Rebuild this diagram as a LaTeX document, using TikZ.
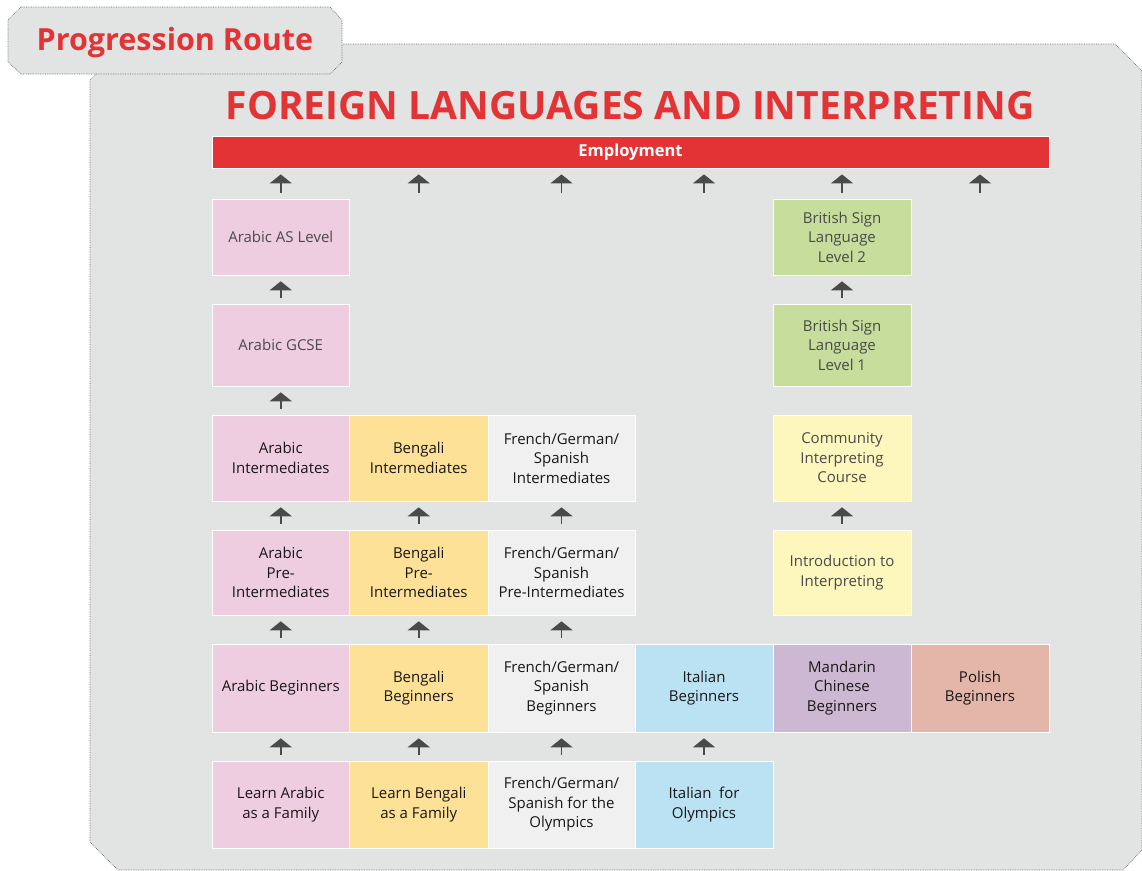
\documentclass[tikz,border=0pt]{standalone}
\usepackage{fontspec}
\setmainfont{Open Sans}
\usetikzlibrary{arrows.meta}
\definecolor{pred}{HTML}{E43335}
\definecolor{panelbg}{HTML}{E2E3E3}
\definecolor{cpink}{HTML}{EFCDE1}
\definecolor{cyellow}{HTML}{FDE197}
\definecolor{cfgray}{HTML}{F0F0F0}
\definecolor{cblue}{HTML}{BAE2F3}
\definecolor{cpurple}{HTML}{CDB8D3}
\definecolor{csalmon}{HTML}{E4B6A9}
\definecolor{cgreen}{HTML}{C6DD9C}
\definecolor{clyellow}{HTML}{FEF7BD}
\definecolor{txtdark}{HTML}{1A1718}
\definecolor{txtgray}{HTML}{4A4A4A}
\definecolor{arrowc}{HTML}{4A4A4A}
\definecolor{borderc}{HTML}{6A6A6A}
\begin{document}
\begin{tikzpicture}[x=1pt,y=-1pt,
  box/.style={draw=white, line width=0.6pt, inner sep=0pt, align=center,
    font=\fontsize{15}{19.5}\selectfont, text=txtdark},
  graytext/.style={text=txtgray},
  w1/.style={minimum width=137.5pt}, w2/.style={minimum width=138.5pt},
  w3/.style={minimum width=147pt}, w4/.style={minimum width=138pt},
  arr/.style={draw=arrowc, line width=1.5pt, -{Triangle[width=22pt,length=9pt]}},
  outline/.style={draw=borderc, line width=0.7pt, densely dotted}
]
\useasboundingbox (0,0) rectangle (1142,870);
% panel
\fill[panelbg] (96,44) -- (1115,44) -- (1142,71) -- (1142,850) -- (1123,870) -- (118,870) -- (90,842) -- (90,80) -- (96,74) -- cycle;
\draw[outline] (343,44) -- (1115,44) -- (1142,71) -- (1142,850) -- (1123,870) -- (118,870) -- (90,842) -- (90,80) -- (96,74);
% tab
\draw[outline, fill=panelbg] (21,7) -- (330,7) -- (342,20) -- (342,62) -- (330,74) -- (21,74) -- (8,62) -- (8,20) -- cycle;
\node[text=pred, font=\bfseries\fontsize{30.5}{33}\selectfont] (tabtxt) at (175,43) {Progression Route};
% title
\node[text=pred, font=\bfseries\fontsize{39}{44}\selectfont, anchor=base] (title) at (630,119) {FOREIGN LANGUAGES AND INTERPRETING};
% employment
\node[fill=pred, draw=white, line width=0.8pt, minimum width=837pt, minimum height=32pt, inner sep=0pt,
  text=white, font=\bfseries\fontsize{16.5}{18}\selectfont] (emp) at (630.5,152) {\raisebox{-1.5pt}{Employment}};
% column 1 Arabic
\node[box, w1, fill=cpink, graytext, minimum height=76pt] (asl) at (280.75,237) {Arabic AS Level};
\node[box, w1, fill=cpink, graytext, minimum height=82pt] (gcse) at (280.75,345) {Arabic GCSE};
\node[box, w1, fill=cpink, minimum height=86pt] (arint) at (280.75,458) {Arabic\\Intermediates};
\node[box, w1, fill=cpink, minimum height=85pt] (arpre) at (280.75,572.5) {Arabic\\Pre-\\Intermediates};
\node[box, w1, fill=cpink, minimum height=88pt] (arbeg) at (280.75,688) {Arabic Beginners};
\node[box, w1, fill=cpink, minimum height=87pt] (arfam) at (280.75,804.5) {Learn Arabic\\as a Family};
% column 2 Bengali
\node[box, w2, fill=cyellow, minimum height=86pt] (bnint) at (418.75,458) {Bengali\\Intermediates};
\node[box, w2, fill=cyellow, minimum height=85pt] (bnpre) at (418.75,572.5) {Bengali\\Pre-\\Intermediates};
\node[box, w2, fill=cyellow, minimum height=88pt] (bnbeg) at (418.75,688) {Bengali\\Beginners};
\node[box, w2, fill=cyellow, minimum height=87pt] (bnfam) at (418.75,804.5) {Learn Bengali\\as a Family};
% column 3 French/German/Spanish
\node[box, w3, fill=cfgray, minimum height=86pt] (frint) at (561.5,458) {French/German/\\Spanish\\Intermediates};
\node[box, w3, fill=cfgray, minimum height=85pt] (frpre) at (561.5,572.5) {French/German/\\Spanish\\Pre-Intermediates};
\node[box, w3, fill=cfgray, minimum height=88pt] (frbeg) at (561.5,688) {French/German/\\Spanish\\Beginners};
\node[box, w3, fill=cfgray, minimum height=87pt] (frfam) at (561.5,804.5) {French/German/\\Spanish for the\\Olympics};
% column 4 Italian
\node[box, w4, fill=cblue, minimum height=88pt] (itbeg) at (704,688) {Italian\\Beginners};
\node[box, w4, fill=cblue, minimum height=87pt] (itfam) at (704,804.5) {Italian~ for\\Olympics};
% column 5
\node[box, w4, fill=cgreen, graytext, minimum height=76pt] (bsl2) at (842,237) {British Sign\\Language\\Level 2};
\node[box, w4, fill=cgreen, graytext, minimum height=82pt] (bsl1) at (842,345) {British Sign\\Language\\Level 1};
\node[box, w4, fill=clyellow, graytext, minimum height=86pt] (comm) at (842,458) {Community\\Interpreting\\Course};
\node[box, w4, fill=clyellow, graytext, minimum height=85pt] (intro) at (842,572.5) {Introduction to\\Interpreting};
\node[box, w4, fill=cpurple, minimum height=88pt] (mdbeg) at (842,688) {Mandarin\\Chinese\\Beginners};
% column 6
\node[box, w4, fill=csalmon, minimum height=88pt] (plbeg) at (980,688) {Polish\\Beginners};
% free arrow starts below employment
\coordinate (top2) at (418.75,199);
\coordinate (top3) at (561.5,199);
\coordinate (top4) at (704,199);
\coordinate (top6) at (980,199);
% arrows to employment
\draw[arr] ([yshift=6pt]asl.north) -- ([yshift=-6pt]asl.north |- emp.south);
\draw[arr] ([yshift=6pt]top2) -- ([yshift=-6pt]top2 |- emp.south);
\draw[arr] ([yshift=6pt]top3) -- ([yshift=-6pt]top3 |- emp.south);
\draw[arr] ([yshift=6pt]top4) -- ([yshift=-6pt]top4 |- emp.south);
\draw[arr] ([yshift=6pt]bsl2.north) -- ([yshift=-6pt]bsl2.north |- emp.south);
\draw[arr] ([yshift=6pt]top6) -- ([yshift=-6pt]top6 |- emp.south);
% arrows between boxes
\draw[arr] ([yshift=6pt]gcse.north) -- ([yshift=-6pt]asl.south);
\draw[arr] ([yshift=6pt]arint.north) -- ([yshift=-6pt]gcse.south);
\draw[arr] ([yshift=6pt]arpre.north) -- ([yshift=-6pt]arint.south);
\draw[arr] ([yshift=6pt]arbeg.north) -- ([yshift=-6pt]arpre.south);
\draw[arr] ([yshift=6pt]arfam.north) -- ([yshift=-6pt]arbeg.south);
\draw[arr] ([yshift=6pt]bnpre.north) -- ([yshift=-6pt]bnint.south);
\draw[arr] ([yshift=6pt]bnbeg.north) -- ([yshift=-6pt]bnpre.south);
\draw[arr] ([yshift=6pt]bnfam.north) -- ([yshift=-6pt]bnbeg.south);
\draw[arr] ([yshift=6pt]frpre.north) -- ([yshift=-6pt]frint.south);
\draw[arr] ([yshift=6pt]frbeg.north) -- ([yshift=-6pt]frpre.south);
\draw[arr] ([yshift=6pt]frfam.north) -- ([yshift=-6pt]frbeg.south);
\draw[arr] ([yshift=6pt]itfam.north) -- ([yshift=-6pt]itbeg.south);
\draw[arr] ([yshift=6pt]bsl1.north) -- ([yshift=-6pt]bsl2.south);
\draw[arr] ([yshift=6pt]intro.north) -- ([yshift=-6pt]comm.south);
\end{tikzpicture}
\end{document}
